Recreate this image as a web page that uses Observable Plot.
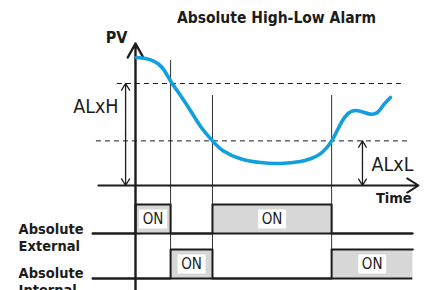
<!DOCTYPE html>
<html>
<head>
<meta charset="utf-8">
<script src="https://cdn.jsdelivr.net/npm/d3@7"></script>
<script src="https://cdn.jsdelivr.net/npm/@observablehq/plot@0.6"></script>
<style>
  html, body { margin: 0; padding: 0; background: #fff; }
  #chart svg text { font-stretch: condensed; }
</style>
</head>
<body>
<div id="chart"></div>
<script>
// ---------- data (time units 0..100, PV units) ----------
const title = "Absolute High-Low Alarm";
const ALxH = 80;            // high alarm threshold
const ALxL = 35;            // low alarm threshold
const curveTime = [0.4, 3.5, 6.0, 8.1, 10.2, 12.4, 15.9, 19.4, 23, 27.2, 31.1, 37.1, 44.2, 51.2, 58.3, 61.8, 65.4, 69.3, 72.4, 74.9, 77.7, 80.6, 83, 85.5, 87.6, 90.1];
const curvePV   = [100.4, 99.6, 98, 95.3, 90.2, 82, 70.6, 58.8, 46.3, 35, 27, 21, 18, 17.3, 18.8, 21, 25, 35, 48, 56, 58.8, 57.5, 56, 57.3, 63, 69];
const eventTimes = [12.4, 27.2, 69.3];     // crossings of thresholds
const eventTops  = [98, 70.6, 70.6];
const laneNames  = ["External", "Internal"];
const laneBase   = [-37.6, -72.9];
const onHeight   = 22.7;
const externalOn = [[0, 12.4], [27.2, 69.3]];
const internalOn = [[12.4, 27.2], [69.3, 98]];
const laneStart = -15.2, laneEnd = 98;
const timeAxisSpan = [-13.1, 100];
const pvAxisSpan = [-82.4, 111.4];
const highDashSpan = [-6.4, 94.7];
const lowDashSpan = [-13.8, 96.1];
const alxhX = -3.5, alxlX = 80.2;

// ---------- derived tables ----------
const curve = curveTime.map((t, i) => ({t, pv: curvePV[i]}));
const events = eventTimes.map((t, i) => ({t, top: eventTops[i]}));
const onBoxes = [
  ...externalOn.map(([a, b]) => ({a, b, base: laneBase[0]})),
  ...internalOn.map(([a, b]) => ({a, b, base: laneBase[1]}))
];
function wave(intervals, base) {
  const pts = [{t: laneStart, v: base}];
  for (const [a, b] of intervals) {
    pts.push({t: a, v: base + onHeight});
    pts.push({t: b, v: b >= laneEnd ? base + onHeight : base});
  }
  if (pts[pts.length - 1].t < laneEnd) pts.push({t: laneEnd, v: base});
  return pts;
}
const waves = [
  ...wave(externalOn, laneBase[0]).map(d => ({...d, lane: "External"})),
  ...wave(internalOn, laneBase[1]).map(d => ({...d, lane: "Internal"}))
];
const lanesLabels = [
  {text: "Absolute\nExternal", t: -41.3, pv: -51.0},
  {text: "Absolute\nInternal", t: -41.3, pv: -85.5}
];
const labelBox = {
  draw(ctx) {
    ctx.moveTo(-14, -9.5); ctx.lineTo(14, -9.5); ctx.lineTo(14, 9.5); ctx.lineTo(-14, 9.5); ctx.closePath();
  }
};

const ink = "#1c1c1c";
const bold = "'DejaVu Sans Condensed','DejaVu Sans',sans-serif";

const chart = Plot.plot({
  width: 429,
  height: 290,
  margin: 0,
  style: {background: "#fff", fontFamily: bold, overflow: "visible"},
  x: {domain: [0, 100], range: [135, 418], axis: null},
  y: {domain: [0, ALxH], range: [185, 83], axis: null},
  marks: [
    // thin event verticals
    Plot.ruleX(events, {x: "t", y1: "top", y2: laneBase[1], stroke: "#333", strokeWidth: 1}),
    // gray ON boxes
    Plot.rect(onBoxes, {x1: "a", x2: "b", y1: "base", y2: d => d.base + onHeight, fill: "#d7d7d7"}),
    // white label backgrounds and ON text
    Plot.dot(onBoxes, {x: d => (d.a + d.b) / 2, y: d => d.base + onHeight / 2, symbol: labelBox, fill: "#fff", stroke: null, r: 5}),
    Plot.text(onBoxes, {x: d => (d.a + d.b) / 2, y: d => d.base + onHeight / 2, text: () => "ON", fontSize: 15, fill: ink, fontFamily: bold}),
    // lane baselines
    Plot.ruleY(laneBase, {x1: laneStart, x2: laneEnd, stroke: ink, strokeWidth: 2}),
    // digital signal waveforms
    Plot.line(waves, {x: "t", y: "v", z: "lane", curve: "step-after", stroke: ink, strokeWidth: 2}),
    // threshold dashed lines
    Plot.ruleY([ALxH], {x1: highDashSpan[0], x2: highDashSpan[1], stroke: ink, strokeWidth: 1, strokeDasharray: "5,4"}),
    Plot.ruleY([ALxL], {x1: lowDashSpan[0], x2: lowDashSpan[1], stroke: ink, strokeWidth: 1, strokeDasharray: "5,4"}),
    // threshold double arrows
    Plot.arrow([{y1: ALxH / 2, y2: ALxH}, {y1: ALxH / 2, y2: 0}], {x1: alxhX, x2: alxhX, y1: "y1", y2: "y2", stroke: ink, strokeWidth: 1.3, headLength: 9, headAngle: 62}),
    Plot.arrow([{y1: ALxL / 2, y2: ALxL}, {y1: ALxL / 2, y2: 0}], {x1: alxlX, x2: alxlX, y1: "y1", y2: "y2", stroke: ink, strokeWidth: 1.3, headLength: 9, headAngle: 62}),
    // axes
    Plot.arrow([{}], {x1: timeAxisSpan[0], x2: timeAxisSpan[1], y1: 0, y2: 0, stroke: ink, strokeWidth: 2, headLength: 10, headAngle: 64}),
    Plot.arrow([{}], {x1: 0, x2: 0, y1: pvAxisSpan[0], y2: pvAxisSpan[1], stroke: ink, strokeWidth: 2.4, headLength: 10, headAngle: 58}),
    // PV curve
    Plot.line(curve, {x: "t", y: "pv", curve: "natural", stroke: "#129fdd", strokeWidth: 3.6, strokeLinecap: "round"}),
    // texts
    Plot.text([title], {x: 49.8, y: 127.8, text: d => d, lineAnchor: "bottom", fontSize: 15.5, fontWeight: "bold", fill: ink}),
    Plot.text(["PV"], {x: -6.7, y: 112, text: d => d, lineAnchor: "bottom", fontSize: 16, fontWeight: "bold", fill: ink}),
    Plot.text(["Time"], {x: 97.6, y: -14.1, text: d => d, lineAnchor: "bottom", textAnchor: "end", fontSize: 14.5, fontWeight: "bold", fill: ink}),
    Plot.text(["ALxH"], {x: -6.0, y: 56.5, text: d => d, lineAnchor: "bottom", textAnchor: "end", fontSize: 19.5, fill: ink}),
    Plot.text(["ALxL"], {x: 83.4, y: 11, text: d => d, lineAnchor: "bottom", textAnchor: "start", fontSize: 19.5, fill: ink}),
    Plot.text(lanesLabels, {x: "t", y: "pv", text: "text", lineAnchor: "bottom", textAnchor: "start", lineHeight: 1.12, fontSize: 14.5, fontWeight: "bold", fill: ink})
  ]
});
document.getElementById("chart").appendChild(chart);
</script>
</body>
</html>
